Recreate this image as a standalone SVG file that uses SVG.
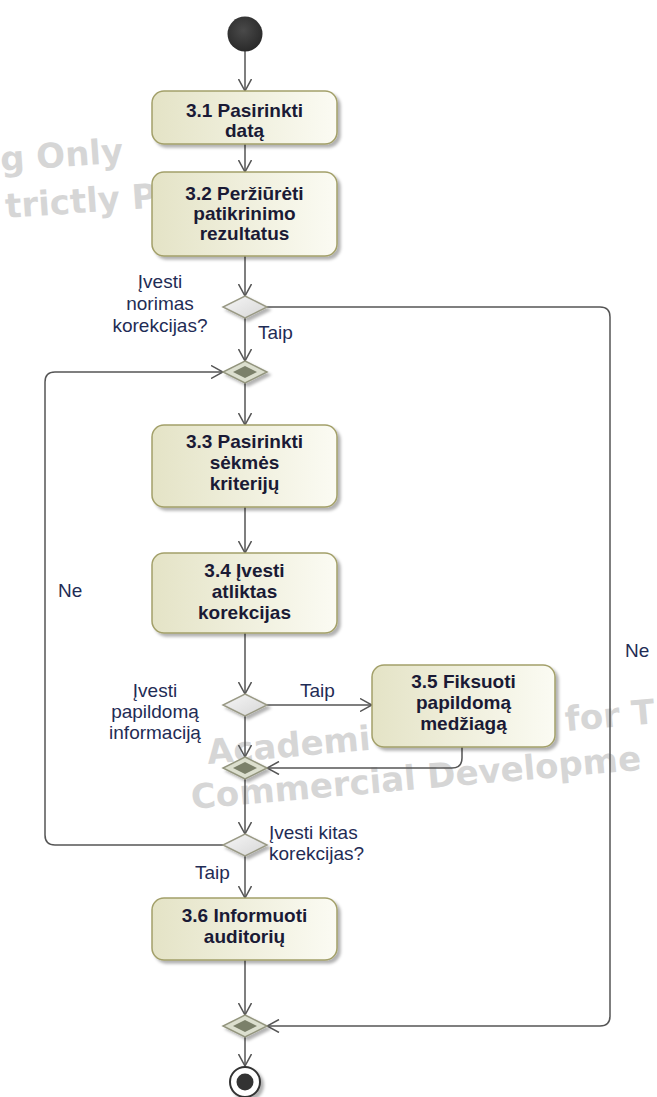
<svg xmlns="http://www.w3.org/2000/svg" width="657" height="1097" viewBox="0 0 657 1097">
  <defs>
    <style>
      .wm { font-family: "DejaVu Sans", Verdana, sans-serif; font-weight: bold; font-size: 34px; fill: #d6d6d6; }
      .act { fill: url(#actFill); stroke: #a3a06a; stroke-width: 1.5; filter: url(#shadow); }
      .txt { font-family: "Liberation Sans", Arial, sans-serif; font-weight: bold; font-size: 19px; fill: #1a1a35; text-anchor: middle; }
      .lbl { font-family: "Liberation Sans", Arial, sans-serif; font-size: 19px; fill: #1f2c55; }
      .mid { text-anchor: middle; }
      .edge { fill: none; stroke: #555555; stroke-width: 1.5; marker-end: url(#arrow); }
      .dec { fill: url(#decFill); stroke: #9a9a86; stroke-width: 1.5; filter: url(#shadow); }
      .mrgOut { fill: #dcdfcf; stroke: #94967f; stroke-width: 1.5; filter: url(#shadow); }
      .mrgIn { fill: #7b806a; }
    </style>
    <linearGradient id="actFill" x1="0" y1="0" x2="1" y2="0">
      <stop offset="0" stop-color="#e4e3c6"/>
      <stop offset="1" stop-color="#fbfbf3"/>
    </linearGradient>
    <linearGradient id="decFill" x1="0" y1="0" x2="1" y2="1">
      <stop offset="0" stop-color="#f6f6f6"/>
      <stop offset="1" stop-color="#d6d6d6"/>
    </linearGradient>
    <radialGradient id="startFill" cx="0.45" cy="0.4" r="0.6">
      <stop offset="0" stop-color="#4a4a4a"/>
      <stop offset="1" stop-color="#2a2a2a"/>
    </radialGradient>
    <filter id="shadow" x="-20%" y="-20%" width="150%" height="150%">
      <feDropShadow dx="3" dy="3" stdDeviation="1.5" flood-color="#000000" flood-opacity="0.3"/>
    </filter>
    <marker id="arrow" markerUnits="userSpaceOnUse" viewBox="0 0 13 14" markerWidth="13" markerHeight="14" refX="12.5" refY="7" orient="auto">
      <path d="M0.5,0.5 L12.5,7 L0.5,13.5" fill="none" stroke="#555555" stroke-width="1.5"/>
    </marker>
  </defs>

  <rect width="657" height="1097" fill="#ffffff"/>

  <!-- background watermark lettering -->
  <g id="watermark">
    <text class="wm" transform="translate(1,171) rotate(-4)">g Only</text>
    <text class="wm" transform="translate(6,218) rotate(-4)">trictly P</text>
    <text class="wm" transform="translate(208,764) rotate(-5)">Academi</text>
    <text class="wm" transform="translate(566,731) rotate(-5)">for T</text>
    <text class="wm" transform="translate(192,809) rotate(-5)">Commercial Developme</text>
  </g>

  <!-- control flows -->
  <g id="connectors">
    <path class="edge" d="M245,51 V91"/>
    <path class="edge" d="M245,144 V172"/>
    <path class="edge" d="M245,256 V296"/>
    <path class="edge" d="M245,318 V361"/>
    <path class="edge" d="M267,307 H600 Q610,307 610,317 V1016 Q610,1026 600,1026 H267"/>
    <path class="edge" d="M245,383 V425"/>
    <path class="edge" d="M245,507 V553"/>
    <path class="edge" d="M245,633 V694"/>
    <path class="edge" d="M267,705 H372"/>
    <path class="edge" d="M462,747 V758 Q462,768 452,768 H267"/>
    <path class="edge" d="M245,716 V757"/>
    <path class="edge" d="M245,779 V834"/>
    <path class="edge" d="M223,845 H55 Q45,845 45,835 V382 Q45,372 55,372 H223"/>
    <path class="edge" d="M245,856 V898"/>
    <path class="edge" d="M245,960 V1015"/>
    <path class="edge" d="M245,1037 V1066"/>

    <text class="lbl" x="258" y="339">Taip</text>
    <text class="lbl" x="625" y="657">Ne</text>
    <text class="lbl" x="58" y="597">Ne</text>
    <text class="lbl" x="300" y="697">Taip</text>
    <text class="lbl" x="195" y="879">Taip</text>
  </g>

  <!-- initial node -->
  <g id="start">
    <circle cx="245" cy="34" r="17.5" fill="url(#startFill)"/>
  </g>

  <g id="a31">
    <rect class="act" x="152" y="91" width="185" height="53" rx="12" ry="12"/>
    <text class="txt" x="244.5" y="117">3.1 Pasirinkti</text>
    <text class="txt" x="244.5" y="137">datą</text>
  </g>

  <g id="a32">
    <rect class="act" x="152" y="172" width="185" height="84" rx="12" ry="12"/>
    <text class="txt" x="244.5" y="200">3.2 Peržiūrėti</text>
    <text class="txt" x="244.5" y="220">patikrinimo</text>
    <text class="txt" x="244.5" y="240">rezultatus</text>
  </g>

  <g id="d1">
    <polygon class="dec" points="245,296 267,307 245,318 223,307"/>
    <text class="lbl mid" x="160" y="288">Įvesti</text>
    <text class="lbl mid" x="160" y="310">norimas</text>
    <text class="lbl mid" x="160" y="332">korekcijas?</text>
  </g>

  <g id="m1">
    <polygon class="mrgOut" points="245,361 267,372 245,383 223,372"/>
    <polygon class="mrgIn" points="245,366 257,372 245,378 233,372"/>
  </g>

  <g id="a33">
    <rect class="act" x="152" y="425" width="185" height="82" rx="12" ry="12"/>
    <text class="txt" x="244.5" y="448">3.3 Pasirinkti</text>
    <text class="txt" x="244.5" y="469">sėkmės</text>
    <text class="txt" x="244.5" y="490">kriterijų</text>
  </g>

  <g id="a34">
    <rect class="act" x="152" y="553" width="185" height="80" rx="12" ry="12"/>
    <text class="txt" x="244.5" y="577">3.4 Įvesti</text>
    <text class="txt" x="244.5" y="598">atliktas</text>
    <text class="txt" x="244.5" y="619">korekcijas</text>
  </g>

  <g id="d2">
    <polygon class="dec" points="245,694 267,705 245,716 223,705"/>
    <text class="lbl mid" x="155" y="697">Įvesti</text>
    <text class="lbl mid" x="155" y="718">papildomą</text>
    <text class="lbl mid" x="155" y="739">informaciją</text>
  </g>

  <g id="a35">
    <rect class="act" x="372" y="665" width="183" height="82" rx="12" ry="12"/>
    <text class="txt" x="463.5" y="688">3.5 Fiksuoti</text>
    <text class="txt" x="463.5" y="709">papildomą</text>
    <text class="txt" x="463.5" y="730">medžiagą</text>
  </g>

  <g id="m2">
    <polygon class="mrgOut" points="245,757 267,768 245,779 223,768"/>
    <polygon class="mrgIn" points="245,762 257,768 245,774 233,768"/>
  </g>

  <g id="d3">
    <polygon class="dec" points="245,834 267,845 245,856 223,845"/>
    <text class="lbl" x="269" y="839">Įvesti kitas</text>
    <text class="lbl" x="269" y="860">korekcijas?</text>
  </g>

  <g id="a36">
    <rect class="act" x="152" y="898" width="185" height="62" rx="12" ry="12"/>
    <text class="txt" x="244.5" y="922">3.6 Informuoti</text>
    <text class="txt" x="244.5" y="943">auditorių</text>
  </g>

  <g id="m3">
    <polygon class="mrgOut" points="245,1015 267,1026 245,1037 223,1026"/>
    <polygon class="mrgIn" points="245,1020 257,1026 245,1032 233,1026"/>
  </g>

  <!-- final node -->
  <g id="end">
    <circle cx="245" cy="1082" r="15" fill="#ffffff" stroke="#333333" stroke-width="2" filter="url(#shadow)"/>
    <circle cx="245" cy="1082" r="8.5" fill="#333333"/>
  </g>
</svg>
